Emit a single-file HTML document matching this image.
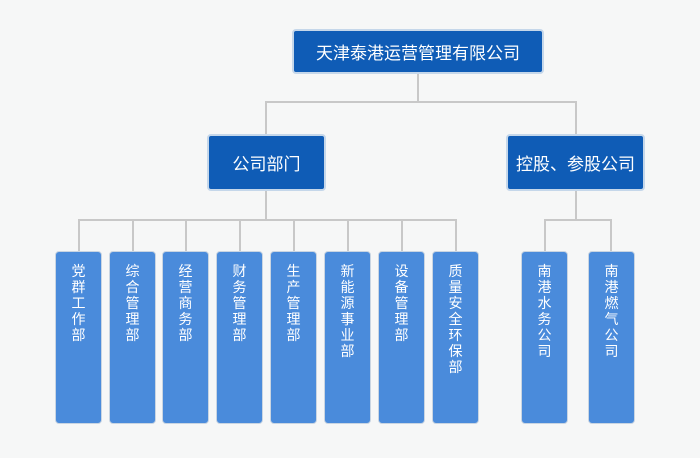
<!DOCTYPE html>
<html><head><meta charset="utf-8"><style>
body{margin:0;width:700px;height:458px;background:#f6f7f7;position:relative;overflow:hidden;font-family:"Liberation Sans","Noto Sans CJK SC",sans-serif;}
.b{position:absolute;color:#fff;box-sizing:border-box;border-radius:4px;}
.d{background:#0f5cb6;border:2px solid #c5d7ea;display:flex;align-items:center;justify-content:center;font-size:17px;}
.s{background:#4a8bdb;border:1px solid #c9d5e2;width:47px;top:251px;height:173px;padding-top:11px;}
.s span{display:block;width:14px;margin:0 auto;font-size:14px;line-height:16px;text-align:center;word-break:break-all;}
.l{position:absolute;background:#c8c8c8;}
</style></head><body>
<div class="l" style="left:417px;top:73px;width:2px;height:30px"></div>
<div class="l" style="left:265px;top:101px;width:312px;height:2px"></div>
<div class="l" style="left:265px;top:101px;width:2px;height:35px"></div>
<div class="l" style="left:575px;top:101px;width:2px;height:35px"></div>
<div class="l" style="left:265px;top:189px;width:2px;height:32px"></div>
<div class="l" style="left:78px;top:219px;width:378px;height:2px"></div>
<div class="l" style="left:575px;top:189px;width:2px;height:32px"></div>
<div class="l" style="left:544px;top:219px;width:68px;height:2px"></div>
<div class="l" style="left:78px;top:219px;width:2px;height:33px"></div>
<div class="l" style="left:132px;top:219px;width:2px;height:33px"></div>
<div class="l" style="left:185px;top:219px;width:2px;height:33px"></div>
<div class="l" style="left:239px;top:219px;width:2px;height:33px"></div>
<div class="l" style="left:293px;top:219px;width:2px;height:33px"></div>
<div class="l" style="left:347px;top:219px;width:2px;height:33px"></div>
<div class="l" style="left:401px;top:219px;width:2px;height:33px"></div>
<div class="l" style="left:455px;top:219px;width:2px;height:33px"></div>
<div class="l" style="left:544px;top:219px;width:2px;height:33px"></div>
<div class="l" style="left:610px;top:219px;width:2px;height:33px"></div>
<div class="b d" style="left:292px;top:29px;width:252px;height:45px">天津泰港运营管理有限公司</div>
<div class="b d" style="left:207px;top:134px;width:119px;height:57px">公司部门</div>
<div class="b d" style="left:506px;top:134px;width:139px;height:57px">控股、参股公司</div>
<div class="b s" style="left:55px"><span>党群工作部</span></div>
<div class="b s" style="left:109px"><span>综合管理部</span></div>
<div class="b s" style="left:162px"><span>经营商务部</span></div>
<div class="b s" style="left:216px"><span>财务管理部</span></div>
<div class="b s" style="left:270px"><span>生产管理部</span></div>
<div class="b s" style="left:324px"><span>新能源事业部</span></div>
<div class="b s" style="left:378px"><span>设备管理部</span></div>
<div class="b s" style="left:432px"><span>质量安全环保部</span></div>
<div class="b s" style="left:521px"><span>南港水务公司</span></div>
<div class="b s" style="left:588px"><span>南港燃气公司</span></div>
</body></html>
